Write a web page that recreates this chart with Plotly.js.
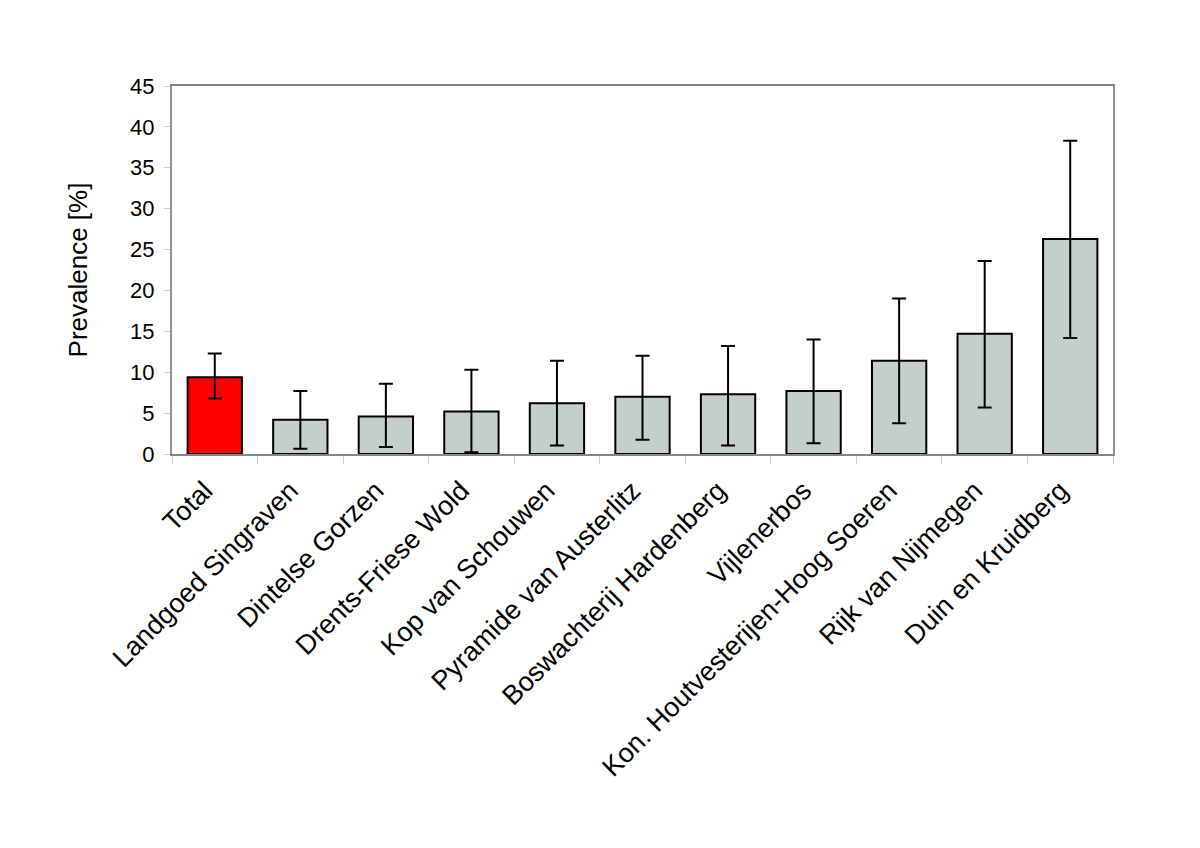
<!DOCTYPE html>
<html>
<head>
<meta charset="utf-8">
<script src="https://cdn.plot.ly/plotly-3.0.1.min.js"></script>
<style>html,body{margin:0;padding:0;background:#fff;}#chart{width:1200px;height:848px;}</style>
</head>
<body>
<div id="chart"></div>
<script>
const categories = ["Total", "Landgoed Singraven", "Dintelse Gorzen", "Drents-Friese Wold", "Kop van Schouwen", "Pyramide van Austerlitz", "Boswachterij Hardenberg", "Vijlenerbos", "Kon. Houtvesterijen-Hoog Soeren", "Rijk van Nijmegen", "Duin en Kruidberg"];
const prevalence = [9.4, 4.2, 4.6, 5.2, 6.2, 7.0, 7.3, 7.7, 11.4, 14.7, 26.3];
const upperCI = [12.3, 7.7, 8.6, 10.3, 11.4, 12.0, 13.2, 14.0, 19.0, 23.6, 38.3];
const lowerCI = [6.8, 0.65, 0.85, 0.2, 1.05, 1.75, 1.05, 1.3, 3.75, 5.7, 14.2];
const barColors = ["#ff0000", "#c4cecc", "#c4cecc", "#c4cecc", "#c4cecc", "#c4cecc", "#c4cecc", "#c4cecc", "#c4cecc", "#c4cecc", "#c4cecc"];
const yTicks = [0, 5, 10, 15, 20, 25, 30, 35, 40, 45];

const plus = upperCI.map((u, i) => u - prevalence[i]);
const minus = lowerCI.map((l, i) => prevalence[i] - l);

const FONT = "Liberation Sans, Arial, sans-serif";

const trace = {
  type: "bar",
  x: categories,
  y: prevalence,
  marker: { color: barColors, line: { color: "#000000", width: 2 } },
  error_y: { type: "data", symmetric: false, array: plus, arrayminus: minus, color: "#000000", thickness: 2, width: 7 },
  hoverinfo: "x+y"
};

const layout = {
  width: 1200, height: 848,
  margin: { l: 172, r: 87, t: 86, b: 394, autoexpand: false },
  paper_bgcolor: "#ffffff", plot_bgcolor: "#ffffff",
  font: { family: FONT, color: "#000000", size: 21 },
  showlegend: false,
  bargap: 0.365,
  xaxis: {
    type: "category",
    tickangle: -45,
    tickson: "boundaries",
    ticks: "outside", ticklen: 8, tickcolor: "#c8cccb", tickwidth: 1,
    ticklabelstandoff: 8,
    ticklabelshift: -10,
    showline: true, linecolor: "#7f8886", linewidth: 2, mirror: true,
    showgrid: false, zeroline: false,
    tickfont: { size: 27, family: FONT }
  },
  yaxis: {
    range: [0, 45],
    tickvals: yTicks,
    ticktext: yTicks.map(String),
    ticks: "outside", ticklen: 6, tickcolor: "#c8cccb", tickwidth: 1,
    ticklabelstandoff: 5,
    showline: true, linecolor: "#8a9593", linewidth: 2, mirror: true,
    showgrid: false, zeroline: false,
    tickfont: { size: 22, family: FONT },
    title: { text: "Prevalence [%]", font: { size: 26, family: FONT }, standoff: 35 }
  }
};

Plotly.newPlot("chart", [trace], layout, { displayModeBar: false, staticPlot: true });
</script>
</body>
</html>
